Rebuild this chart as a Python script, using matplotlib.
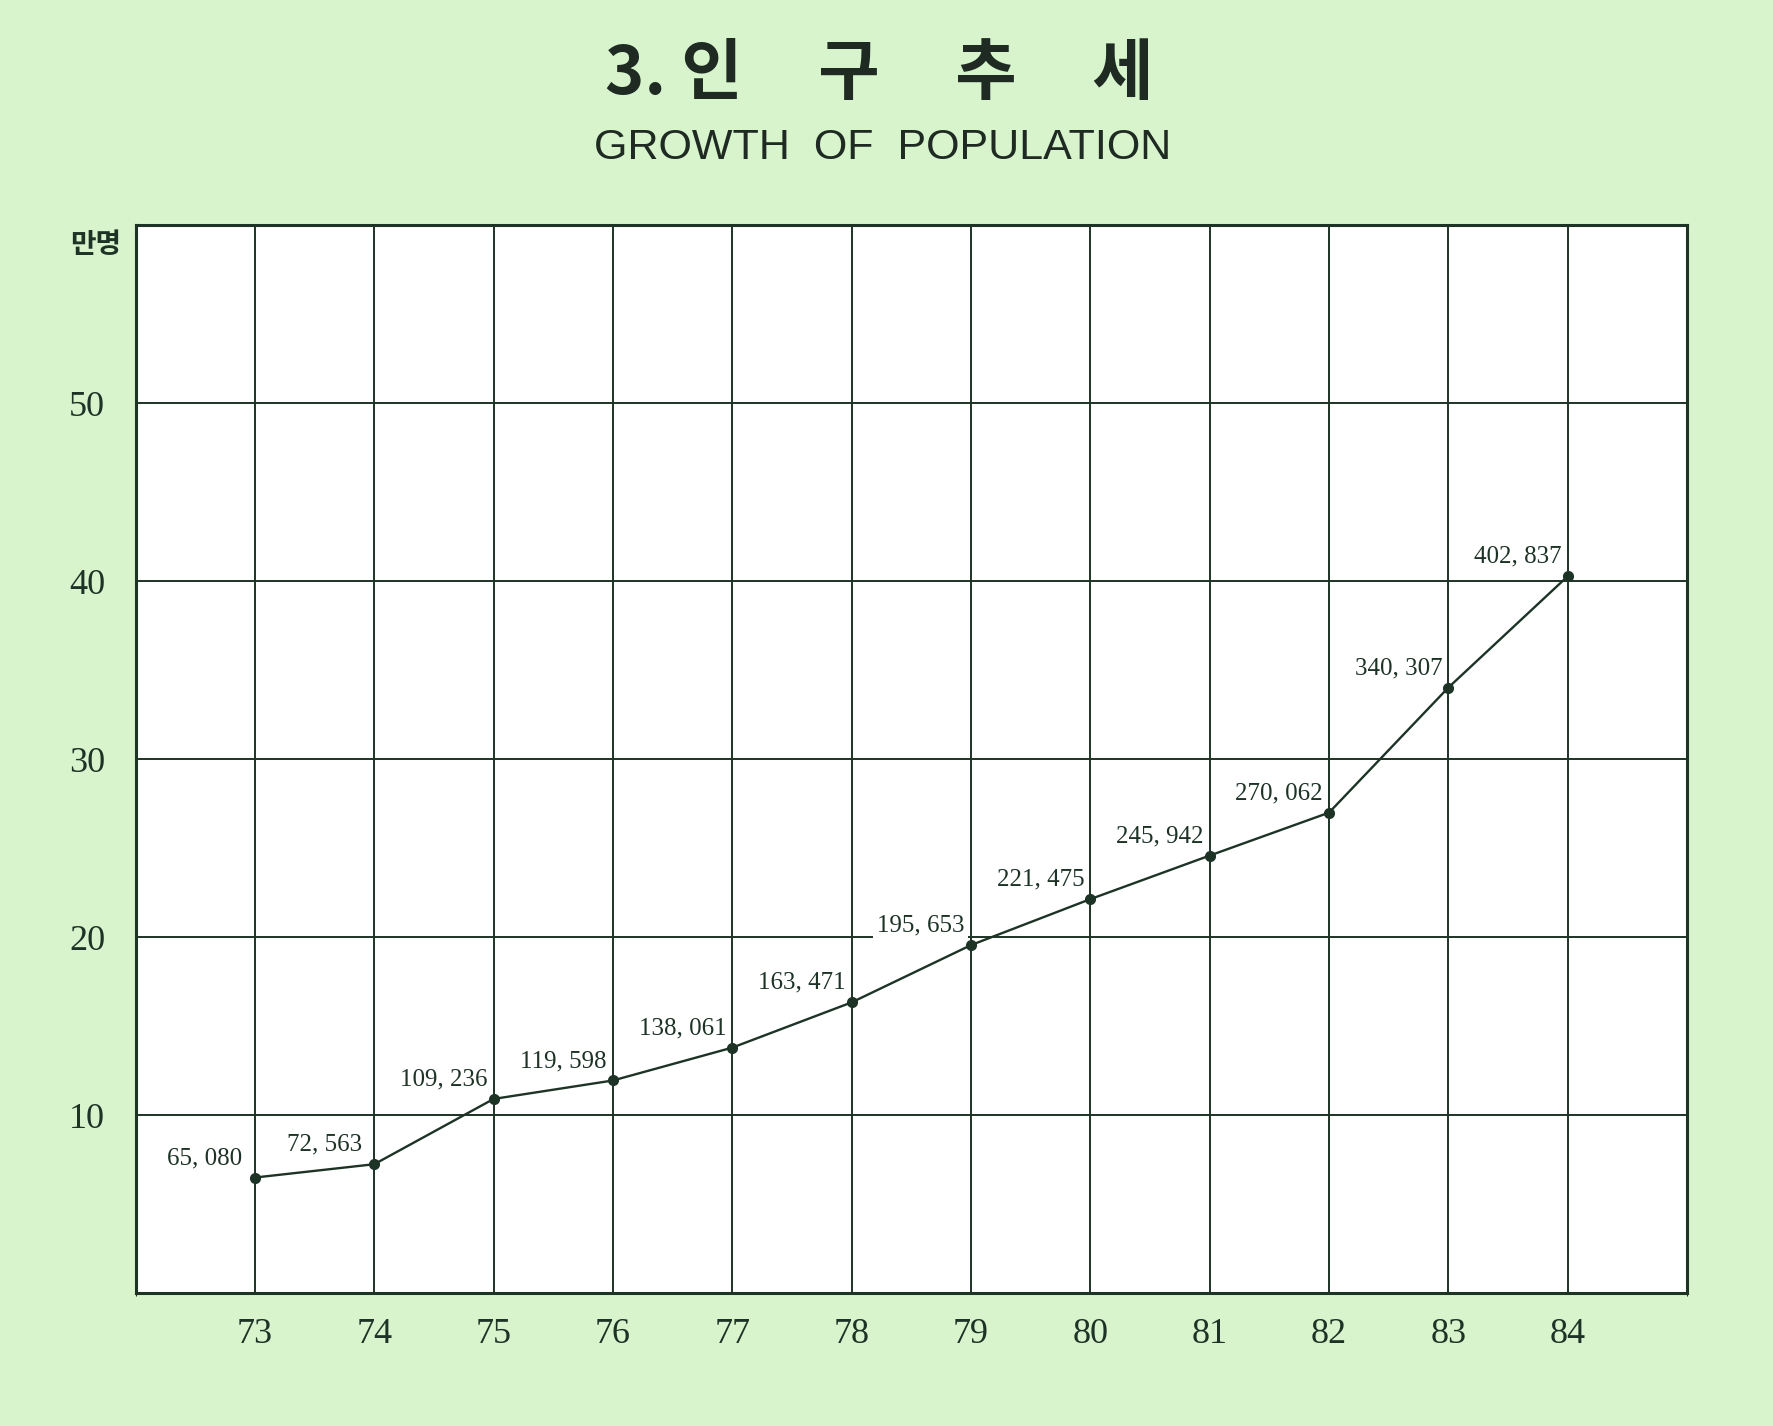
import matplotlib.pyplot as plt
from matplotlib.ticker import MultipleLocator

# population by year (persons); plotted in units of 10,000 (만명)
years = [73, 74, 75, 76, 77, 78, 79, 80, 81, 82, 83, 84]
population = [65080, 72563, 109236, 119598, 138061, 163471,
              195653, 221475, 245942, 270062, 340307, 402837]
y_ticks = [10, 20, 30, 40, 50]

ink = "#1d3326"
paper = "#d7f4cd"

fig = plt.figure(figsize=(17.73, 14.26), dpi=100, facecolor=paper)
ax = fig.add_axes([0.0765, 0.093, 0.875, 0.749])
ax.set_facecolor("white")

vals = [p / 10000 for p in population]
ax.plot(years, vals, color=ink, lw=1.7, marker="o", ms=7, zorder=3)

for x, v, p in zip(years, vals, population):
    label = f"{p:,}".replace(",", ", ")
    ax.annotate(label, (x, v), xytext=(-36, 14), textcoords="offset points",
                ha="center", va="center", fontsize=18,
                family="Liberation Serif", color=ink, zorder=4,
                bbox=dict(boxstyle="square,pad=0.15", fc="white", ec="none"))

ax.set_xlim(72, 85)
ax.set_ylim(0, 60)
ax.set_xticks(years)
ax.set_yticks(y_ticks)
ax.xaxis.set_minor_locator(MultipleLocator(1))
ax.grid(True, which="both", color=ink, lw=1.4)
ax.set_axisbelow(True)
for s in ax.spines.values():
    s.set_color(ink)
    s.set_linewidth(2.2)

ax.tick_params(length=0, labelsize=26, colors=ink)
ax.tick_params(axis="y", pad=22)
ax.tick_params(axis="x", pad=18)
for t in ax.get_xticklabels() + ax.get_yticklabels():
    t.set_family("Liberation Serif")

fig.text(0.054, 0.828, "만명", family=["Noto Sans CJK KR"], fontsize=20,
         fontweight="bold", color=ink, ha="center", va="center")

fig.text(0.496, 0.948, "3. 인     구     추     세", family=["Noto Sans CJK KR"],
         fontsize=48, fontweight="bold", color="#1e2a22",
         ha="center", va="center")
fig.text(0.498, 0.896, "GROWTH  OF  POPULATION",
         family=["Liberation Sans"],
         fontsize=31, color="#1e2a22", ha="center", va="center")

fig.savefig("out.png", dpi=100, facecolor=paper)
